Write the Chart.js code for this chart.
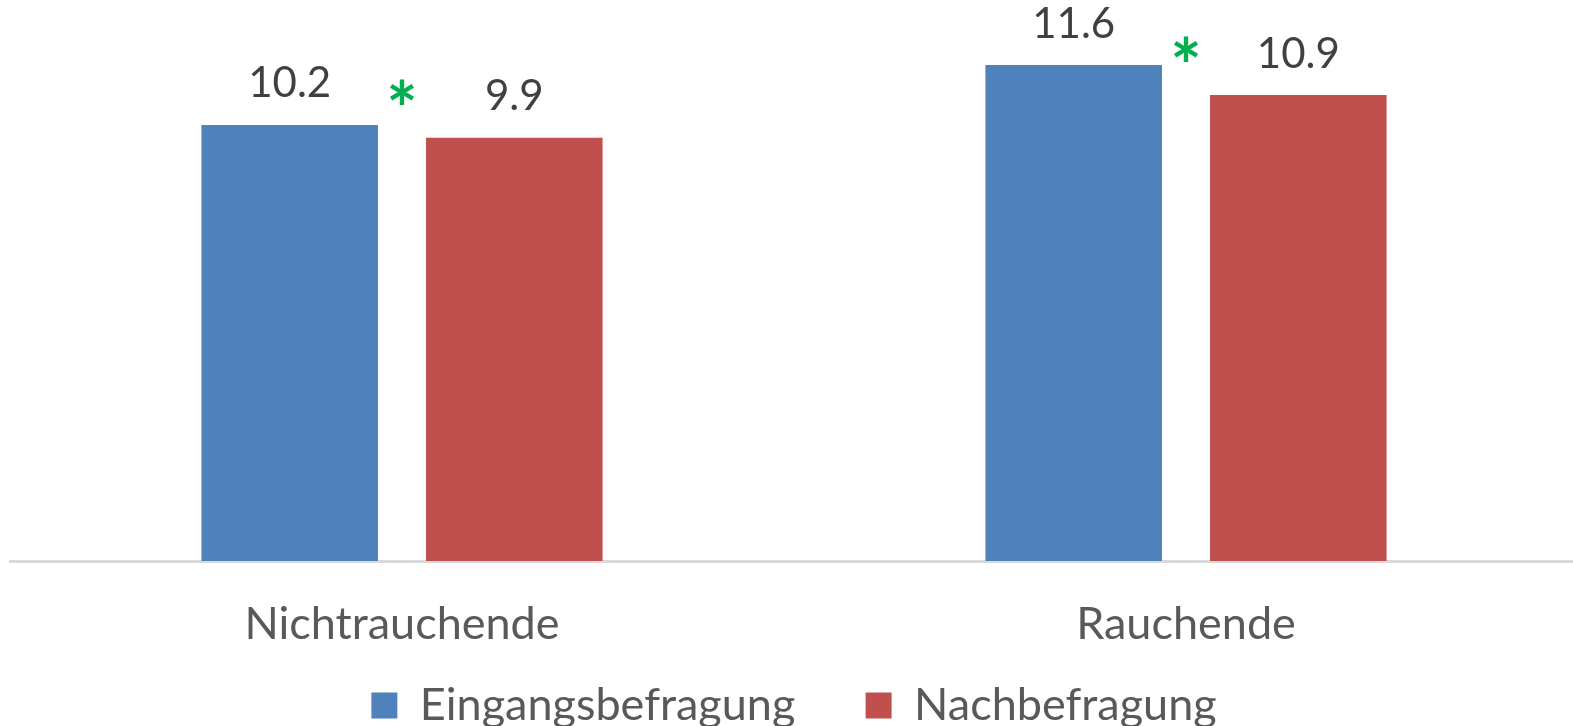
<!DOCTYPE html>
<html>
<head>
<meta charset="utf-8">
<script src="https://cdn.jsdelivr.net/npm/chart.js@4/dist/chart.umd.min.js"></script>
<style>
  html, body { margin: 0; padding: 0; background: #fff; overflow: hidden; }
  #holder { width: 1578px; height: 726px; }
</style>
</head>
<body>
<div id="holder"><canvas id="chart-area"></canvas></div>
<script>
var categories = ['Nichtrauchende', 'Rauchende'];
var eingang = [10.2, 11.6];
var nach = [9.9, 10.9];
var seriesNames = ['Eingangsbefragung', 'Nachbefragung'];
var significant = [true, true];

var fontFamily = 'Lato, "Open Sans", sans-serif';

// draws value labels above bars and the green significance stars
var labelPlugin = {
    id: 'valueLabels',
    afterInit: function (chart) {
        // pull the legend a bit closer to the bottom edge
        var origFit = chart.legend.fit;
        chart.legend.fit = function () {
            origFit.call(this);
            this.height -= 12;
        };
    },
    afterDatasetsDraw: function (chart) {
        var ctx = chart.ctx;
        ctx.save();
        ctx.textAlign = 'center';
        ctx.textBaseline = 'bottom';
        ctx.fillStyle = '#404040';
        ctx.font = '42px ' + fontFamily;
        chart.data.datasets.forEach(function (ds, i) {
            var meta = chart.getDatasetMeta(i);
            meta.data.forEach(function (bar, j) {
                ctx.fillText(ds.data[j].toFixed(1), bar.x, bar.y - 20);
            });
        });
        var xScale = chart.scales.x;
        var second = chart.getDatasetMeta(1);
        ctx.fillStyle = '#00b050';
        ctx.font = 'bold 74px ' + fontFamily;
        ctx.textBaseline = 'middle';
        significant.forEach(function (s, j) {
            if (!s) return;
            var x = xScale.getPixelForValue(j);
            ctx.fillText('*', x, second.data[j].y - 26);
        });
        ctx.restore();
    }
};

var config = {
    type: 'bar',
    data: {
        labels: categories,
        datasets: [{
            label: seriesNames[0],
            data: eingang,
            backgroundColor: '#4f81bd',
            barPercentage: 0.786,
            categoryPercentage: 0.573
        }, {
            label: seriesNames[1],
            data: nach,
            backgroundColor: '#c0504d',
            barPercentage: 0.786,
            categoryPercentage: 0.573
        }]
    },
    options: {
        responsive: true,
        maintainAspectRatio: false,
        animation: false,
        layout: {padding: {left: 10, right: 0, top: 48, bottom: 0}},
        plugins: {
            tooltip: {enabled: false},
            legend: {
                display: true,
                position: 'bottom',
                labels: {
                    boxWidth: 26,
                    boxHeight: 26,
                    padding: 2,
                    color: '#595959',
                    font: {family: fontFamily, size: 45},
                    generateLabels: function (chart) {
                        var items = Chart.defaults.plugins.legend.labels.generateLabels(chart);
                        // wider gap between the two entries
                        items[0].text = items[0].text + '\u2003   ';
                        return items;
                    }
                }
            }
        },
        scales: {
            x: {
                grid: {display: false},
                border: {display: true, color: '#d9d9d9', width: 3},
                ticks: {color: '#595959', padding: 28, font: {family: fontFamily, size: 45}},
                afterFit: function (scale) {
                    scale.height = 120;
                }
            },
            y: {
                display: false,
                min: 0,
                max: 12
            }
        }
    },
    plugins: [labelPlugin]
};

var ctx = document.getElementById('chart-area').getContext('2d');
var myBar = new Chart(ctx, config);
</script>
</body>
</html>
